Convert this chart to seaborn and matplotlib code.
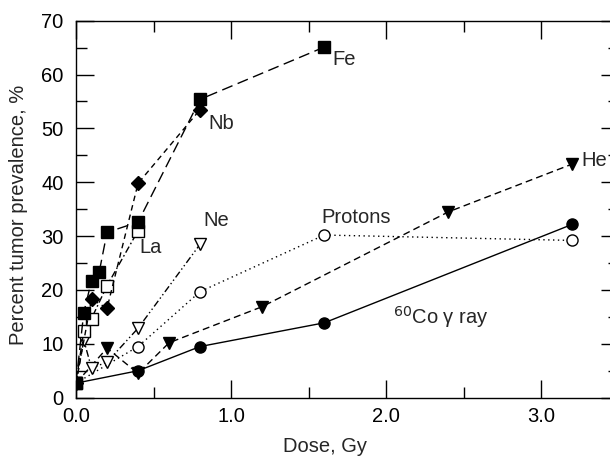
import numpy as np
import pandas as pd
import matplotlib
matplotlib.use("Agg")
import matplotlib.pyplot as plt
from matplotlib.ticker import MultipleLocator, FormatStrFormatter
import seaborn as sns

# values
fe_dose = [0.0, 0.05, 0.1, 0.15, 0.2, 0.4, 0.8, 1.6]
fe_prev = [2.7, 15.8, 21.7, 23.4, 30.7, 32.6, 55.4, 65.1]

nb_dose = [0.0, 0.1, 0.2, 0.4, 0.8]
nb_prev = [2.7, 18.3, 16.6, 39.8, 53.5]

la_dose = [0.0, 0.05, 0.1, 0.2, 0.4]
la_prev = [2.7, 12.4, 14.7, 20.8, 31.0]

ne_dose = [0.0, 0.05, 0.1, 0.2, 0.4, 0.8]
ne_prev = [2.7, 10.7, 5.5, 6.6, 12.9, 28.5]

pr_dose = [0.0, 0.4, 0.8, 1.6, 3.2]
pr_prev = [2.7, 9.5, 19.7, 30.2, 29.2]

he_dose = [0.0, 0.2, 0.4, 0.6, 1.2, 2.4, 3.2]
he_prev = [2.7, 9.2, 4.5, 10.2, 16.9, 34.5, 43.4]

co_dose = [0.0, 0.4, 0.8, 1.6, 3.2]
co_prev = [2.7, 5.0, 9.5, 13.9, 32.2]

series = {
    "Fe": (fe_dose, fe_prev),
    "Nb": (nb_dose, nb_prev),
    "La": (la_dose, la_prev),
    "Ne": (ne_dose, ne_prev),
    "Protons": (pr_dose, pr_prev),
    "He": (he_dose, he_prev),
    "Co": (co_dose, co_prev),
}

# line / marker style per series
styles = {
    "Co": dict(linestyle="-", marker="o", markerfacecolor="black", markersize=8),
    "He": dict(linestyle=(0, (5, 3)), marker="v", markerfacecolor="black", markersize=9),
    "Protons": dict(linestyle=(0, (1, 2.5)), marker="o", markerfacecolor="white", markersize=8),
    "Ne": dict(linestyle=(0, (5, 2, 1, 2, 1, 2)), marker="v", markerfacecolor="white", markersize=9),
    "La": dict(linestyle=(0, (5, 2, 1.2, 2)), marker="s", markerfacecolor="white", markersize=8),
    "Nb": dict(linestyle=(0, (4, 3)), marker="D", markerfacecolor="black", markersize=7.5),
    "Fe": dict(linestyle=(0, (8, 4)), marker="s", markerfacecolor="black", markersize=8),
}

FS = 14.5

sns.set_theme(style="ticks")
plt.rcParams["font.family"] = ["Liberation Sans", "DejaVu Sans"]

fig = plt.figure(figsize=(6.1, 4.58), dpi=100)
ax = fig.add_axes([0.1246, 0.1317, 0.8902, 0.8231])

for name in ["Co", "He", "Protons", "Ne", "La", "Nb", "Fe"]:
    dose, prev = series[name]
    df = pd.DataFrame({"dose": dose, "prev": prev})
    sns.lineplot(data=df, x="dose", y="prev", ax=ax, color="black",
                 linewidth=1.0, markeredgecolor="black", markeredgewidth=1.0,
                 **styles[name])

# series labels
ax.text(1.65, 62.8, "Fe", fontsize=FS, va="center", ha="left")
ax.text(0.854, 51.0, "Nb", fontsize=FS, va="center", ha="left")
ax.text(0.41, 27.8, "La", fontsize=FS, va="center", ha="left")
ax.text(0.82, 32.9, "Ne", fontsize=FS, va="center", ha="left")
ax.text(1.58, 33.4, "Protons", fontsize=FS, va="center", ha="left")
ax.text(3.26, 44.0, "He", fontsize=FS, va="center", ha="left")
ax.text(2.045, 15.0, "$^{60}$Co γ ray", fontsize=FS, va="center", ha="left")

ax.set_xlim(0, 3.5)
ax.set_ylim(0, 70)
ax.xaxis.set_major_locator(MultipleLocator(1.0))
ax.xaxis.set_minor_locator(MultipleLocator(0.5))
ax.xaxis.set_major_formatter(FormatStrFormatter("%.1f"))
ax.yaxis.set_major_locator(MultipleLocator(10))
ax.yaxis.set_minor_locator(MultipleLocator(5))
ax.tick_params(which="both", direction="in", top=True, right=True,
               labelsize=FS, colors="black", width=1.0)
ax.tick_params(which="major", length=13)
ax.tick_params(which="minor", length=8)
ax.tick_params(axis="x", which="major", pad=7)
ax.tick_params(axis="y", which="major", pad=9)
for s in ax.spines.values():
    s.set_linewidth(1.0)
    s.set_color("black")

ax.set_xlabel("Dose, Gy", fontsize=FS)
ax.set_ylabel("Percent tumor prevalence, %", fontsize=FS)
ax.xaxis.set_label_coords(0.459, -0.104)
ax.yaxis.set_label_coords(-0.088, 0.485)

fig.savefig("out.png", dpi=100)
